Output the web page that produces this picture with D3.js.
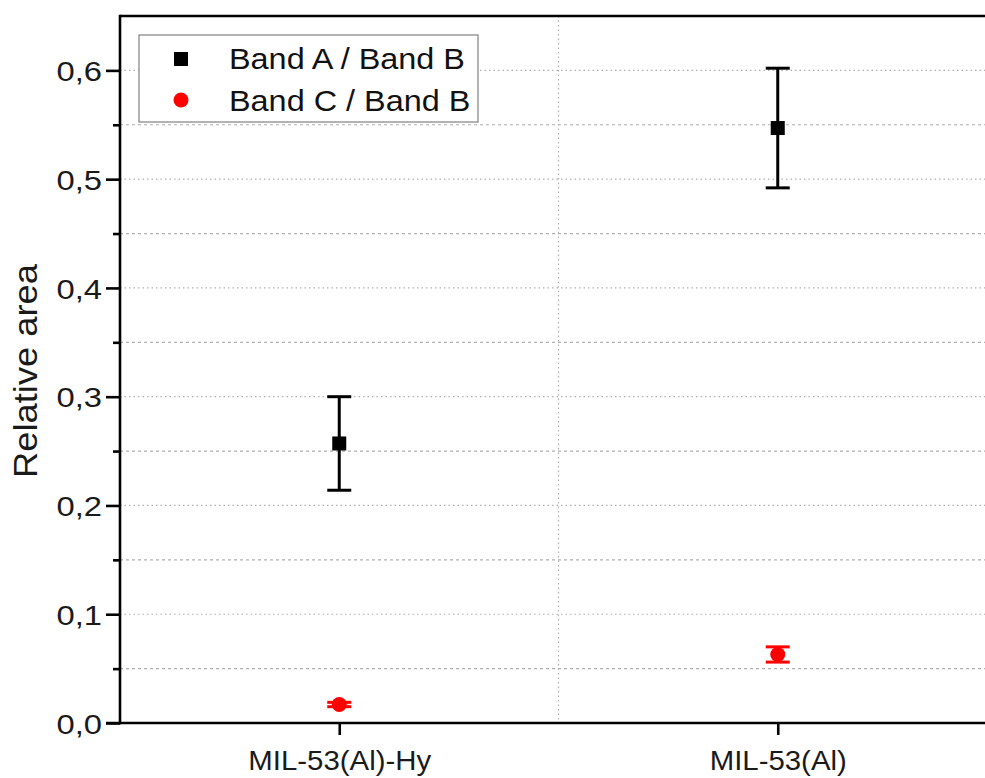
<!DOCTYPE html>
<html><head><meta charset="utf-8">
<script src="https://cdn.jsdelivr.net/npm/d3@7/dist/d3.min.js"></script>
<style>body{margin:0;background:#fff}svg{display:block;font-family:"Liberation Sans",Arial,sans-serif}</style>
</head><body><svg id="c" width="985" height="778"></svg>
<script>
const categories = ["MIL-53(Al)-Hy", "MIL-53(Al)"];
const seriesNames = ["Band A / Band B", "Band C / Band B"];
const bandAB = [0.257, 0.547];
const bandABErr = [0.043, 0.055];
const bandCB = [0.017, 0.063];
const bandCBErr = [0.002, 0.007];
const yTicks = [0, 0.1, 0.2, 0.3, 0.4, 0.5, 0.6];
const yMinor = [0.05, 0.15, 0.25, 0.35, 0.45, 0.55];

const svg = d3.select("#c");
const L = 120, T = 16, B = 723;
const x = d3.scaleLinear().domain([0.5, 2.5]).range([L, 997]);
const y = d3.scaleLinear().domain([0, 0.65]).range([B, T]);

// grid
const g = svg.append("g");
g.selectAll(".gmaj").data(yTicks.slice(1)).join("line")
  .attr("x1", L).attr("x2", 985).attr("y1", d=>y(d)).attr("y2", d=>y(d))
  .attr("stroke", "#b0b0b0").attr("stroke-width", 1.2).attr("stroke-dasharray", "1.5,3");
g.selectAll(".gmin").data(yMinor).join("line")
  .attr("x1", L).attr("x2", 985).attr("y1", d=>y(d)).attr("y2", d=>y(d))
  .attr("stroke", "#b0b0b0").attr("stroke-width", 1.2).attr("stroke-dasharray", "3,3");
g.append("line").attr("x1", x(1.5)).attr("x2", x(1.5)).attr("y1", T).attr("y2", B)
  .attr("stroke", "#b0b0b0").attr("stroke-width", 1.2).attr("stroke-dasharray", "1.5,3");

// y axis
const sy = 1.17;
const yAxis = d3.axisLeft(y).tickValues(yTicks).tickSize(14).tickPadding(4)
  .tickFormat(d => d3.format(".1f")(d).replace(".", ","));
const ya = svg.append("g").attr("transform", `translate(${L},0)`).call(yAxis);
ya.select(".domain").remove();
ya.selectAll("line").attr("stroke", "#000").attr("stroke-width", 2.6);
ya.selectAll("text").attr("font-size", 28).attr("fill", "#1a1a1a")
  .attr("x", -18 / sy).attr("dy", "0.36em").attr("transform", `scale(${sy},1)`);
const yaMin = svg.append("g").attr("transform", `translate(${L},0)`)
  .call(d3.axisLeft(y).tickValues(yMinor).tickSize(7).tickFormat(""));
yaMin.select(".domain").remove();
yaMin.selectAll("line").attr("stroke", "#000").attr("stroke-width", 2.6);

// x axis
const sx = 1.05;
const xAxis = d3.axisBottom(x).tickValues([1, 2]).tickSize(12)
  .tickFormat((d, i) => categories[i]);
const xa = svg.append("g").attr("transform", `translate(0,${B})`).call(xAxis);
xa.select(".domain").remove();
xa.selectAll("line").attr("stroke", "#000").attr("stroke-width", 2.6);
xa.selectAll("text").attr("font-size", 28).attr("fill", "#1a1a1a")
  .attr("y", 47).attr("dy", 0).attr("transform", `scale(${sx},1)`);

// frame lines
svg.append("line").attr("x1", L).attr("x2", L).attr("y1", T - 1.3).attr("y2", B + 1.3).attr("stroke", "#000").attr("stroke-width", 2.6);
svg.append("line").attr("x1", L - 14).attr("x2", 985).attr("y1", B).attr("y2", B).attr("stroke", "#000").attr("stroke-width", 2.6);
svg.append("line").attr("x1", L).attr("x2", 985).attr("y1", T).attr("y2", T).attr("stroke", "#000").attr("stroke-width", 2.6);

svg.append("text").attr("transform", `translate(37,${371}) rotate(-90) scale(1.1,1)`)
  .attr("text-anchor", "middle").attr("font-size", 33).attr("fill", "#1a1a1a").text("Relative area");

// error bars
function errBars(vals, errs, color, cap) {
  const eg = svg.append("g").attr("stroke", color).attr("stroke-width", 3);
  vals.forEach((v, i) => {
    const cx = x(i + 1);
    eg.append("line").attr("x1", cx).attr("x2", cx).attr("y1", y(v - errs[i])).attr("y2", y(v + errs[i]));
    [v - errs[i], v + errs[i]].forEach(e => eg.append("line")
      .attr("x1", cx - cap).attr("x2", cx + cap).attr("y1", y(e)).attr("y2", y(e)));
  });
}
errBars(bandAB, bandABErr, "#000", 12);
errBars(bandCB, bandCBErr, "#f00", 12);

svg.append("g").selectAll("rect").data(bandAB).join("rect")
  .attr("x", (d, i) => x(i + 1) - 7).attr("y", d => y(d) - 7)
  .attr("width", 14).attr("height", 14).attr("fill", "#000");
svg.append("g").selectAll("circle").data(bandCB).join("circle")
  .attr("cx", (d, i) => x(i + 1)).attr("cy", d => y(d)).attr("r", 7.5).attr("fill", "#f00");

// legend
const sl = 1.08;
const lg = svg.append("g");
lg.append("rect").attr("x", 139).attr("y", 35).attr("width", 339).attr("height", 87)
  .attr("fill", "#fff").attr("stroke", "#8a8a8a").attr("stroke-width", 1.3);
lg.append("rect").attr("x", 174).attr("y", 52).attr("width", 14).attr("height", 14).attr("fill", "#000");
lg.append("circle").attr("cx", 181).attr("cy", 100).attr("r", 7.5).attr("fill", "#f00");
lg.selectAll("text.lt").data(seriesNames).join("text").attr("class", "lt")
  .attr("x", 229 / sl).attr("y", (d, i) => 69 + i * 42).attr("transform", `scale(${sl},1)`)
  .attr("font-size", 30).attr("fill", "#111").text(d => d);
</script></body></html>
